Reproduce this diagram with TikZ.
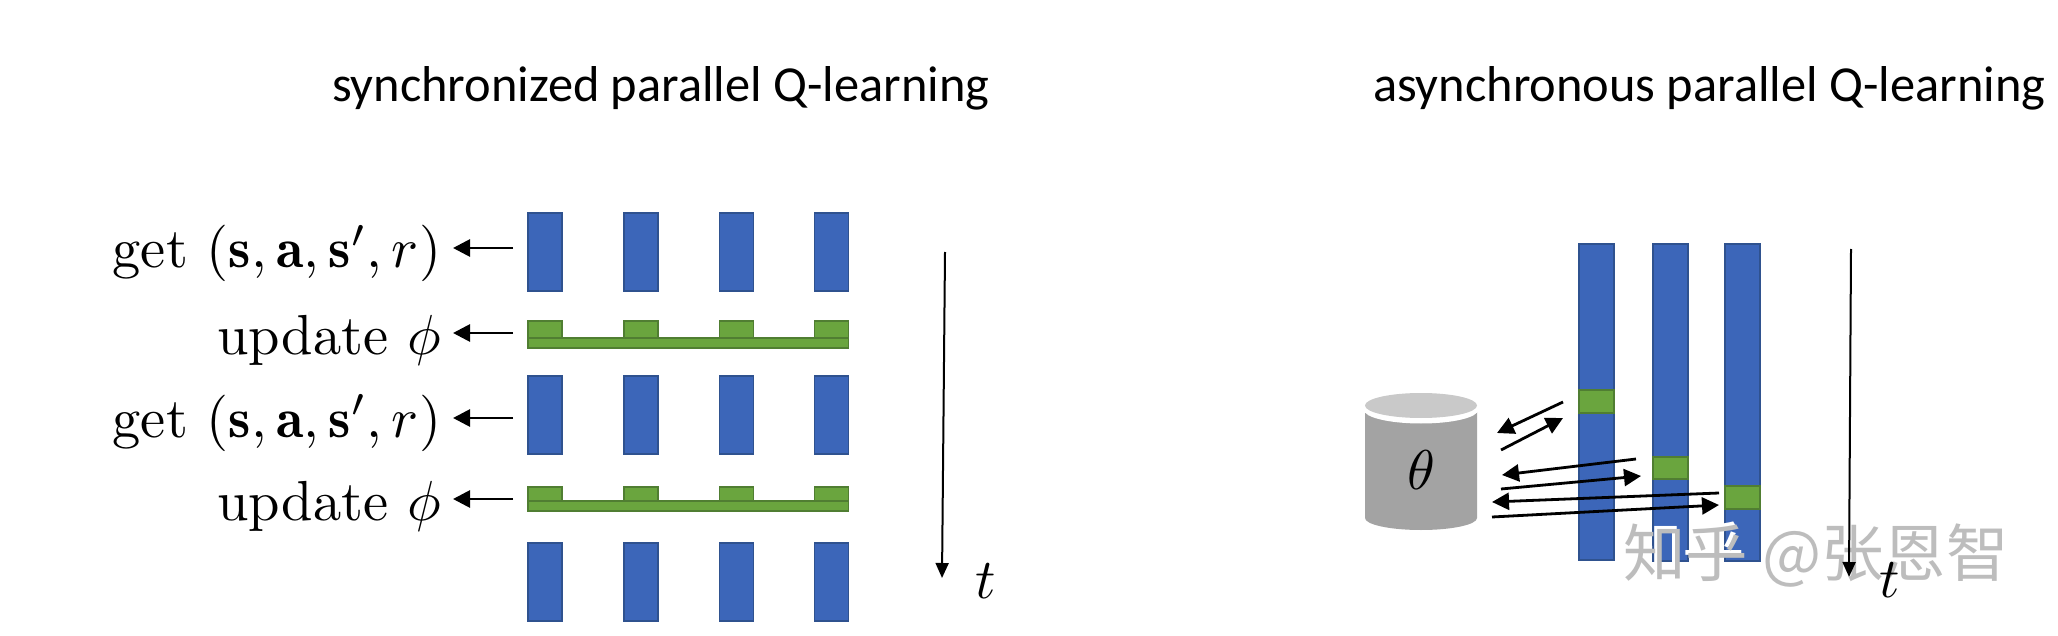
\documentclass[tikz,border=0pt]{standalone}
\usepackage{amsmath}
\usepackage{fontspec}
\newfontfamily\titlefont{Carlito}
\newfontfamily\cjkfont{Noto Sans CJK SC}
\usetikzlibrary{arrows.meta}
\definecolor{barblue}{HTML}{3C66B9}
\definecolor{baredge}{HTML}{2F528F}
\definecolor{bargreen}{HTML}{6AA53E}
\definecolor{greenedge}{HTML}{507E32}
\definecolor{cylbody}{HTML}{A3A3A3}
\definecolor{cyltop}{HTML}{C9C9C9}
\definecolor{wmgrey}{HTML}{BDBDBD}
\tikzset{
  bluebar/.style={draw=baredge,fill=barblue,line width=1.6pt,inner sep=0pt,outer sep=0pt,anchor=north west},
  greenbar/.style={draw=greenedge,fill=bargreen,line width=1.6pt,inner sep=0pt,outer sep=0pt,anchor=north west},
  lab/.style={inner sep=0pt,outer sep=0pt,anchor=base east,scale=5.65},
  title/.style={inner sep=0pt,outer sep=0pt,anchor=base west,font=\titlefont\fontsize{50.4}{54}\selectfont},
  arr/.style={line width=2.8pt,black,-{Triangle[length=17pt,width=17pt]}},
  thinarr/.style={line width=2pt,black,-{Triangle[length=15pt,width=13pt]}},
}
\begin{document}
\begin{tikzpicture}[x=1pt,y=-1pt]
\useasboundingbox[fill=white] (0,0) rectangle (2058,636);
% titles
\node[title] (t1) at (332,102) {synchronized parallel Q-learning};
\node[title] (t2) at (1373,102) {asynchronous parallel Q-learning};
% blue bars, left
\foreach \c/\x in {1/528,2/624,3/719.5,4/814.5}{
  \node[bluebar,minimum width=34pt,minimum height=78pt] (a\c) at (\x,213) {};
  \node[bluebar,minimum width=34pt,minimum height=78pt] (b\c) at (\x,376) {};
  \node[bluebar,minimum width=34pt,minimum height=78pt] (c\c) at (\x,543) {};
  \node[greenbar,minimum width=34pt,minimum height=18pt] (g\c) at (\x,321) {};
  \node[greenbar,minimum width=34pt,minimum height=16pt] (h\c) at (\x,487) {};
}
\node[greenbar,minimum width=320.5pt,minimum height=10pt] (gb) at (528,338) {};
\node[greenbar,minimum width=320.5pt,minimum height=10pt] (hb) at (528,501) {};
% labels
\node[lab] (l1) at (441,268) {get $(\mathbf{s},\mathbf{a},\mathbf{s}',r)$};
\node[lab] (l2) at (441,354) {update $\phi$};
\node[lab] (l3) at (441,437) {get $(\mathbf{s},\mathbf{a},\mathbf{s}',r)$};
\node[lab] (l4) at (441,520) {update $\phi$};
\coordinate (s1) at (513,248);
\coordinate (e1) at (453,248);
\coordinate (s2) at (513,333);
\coordinate (e2) at (453,333);
\coordinate (s3) at (513,418);
\coordinate (e3) at (453,418);
\coordinate (s4) at (513,499);
\coordinate (e4) at (453,499);
\foreach \i in {1,2,3,4}{\draw[arr] (s\i) -- (e\i);}
% time, left
\coordinate (ts) at (945,252);
\coordinate (te) at (942,578);
\draw[thinarr] (ts) -- (te);
\node[lab,anchor=base] (tl) at (986,598) {$t$};
% right bars
\node[bluebar,minimum width=35pt,minimum height=316pt] (p1) at (1579,244) {};
\node[bluebar,minimum width=35pt,minimum height=317pt] (p2) at (1653,244) {};
\node[bluebar,minimum width=35pt,minimum height=317pt] (p3) at (1725,244) {};
\node[greenbar,minimum width=35pt,minimum height=23pt] (q1) at (1579,390) {};
\node[greenbar,minimum width=35pt,minimum height=22pt] (q2) at (1653,457) {};
\node[greenbar,minimum width=35pt,minimum height=23pt] (q3) at (1725,486) {};
% cylinder
\fill[cylbody] (1365,412) -- (1365,518) arc[start angle=180,end angle=0,x radius=56,y radius=12] -- (1477,412) -- cycle;
\fill[white] (1421,410) ellipse[x radius=57,y radius=13.5];
\fill[cyltop] (1421,405.5) ellipse[x radius=56,y radius=12.5];
\node[inner sep=0pt,scale=5.6] (db) at (1421,470) {$\theta$};
% right arrows
\coordinate (r1a) at (1563,402); \coordinate (r1b) at (1497,433);
\coordinate (r2a) at (1501,450); \coordinate (r2b) at (1563,418);
\coordinate (r3a) at (1636,459); \coordinate (r3b) at (1502,475);
\coordinate (r4a) at (1501,489); \coordinate (r4b) at (1641,476);
\coordinate (r5a) at (1719,493); \coordinate (r5b) at (1492,502);
\coordinate (r6a) at (1492,517); \coordinate (r6b) at (1719,505);
\foreach \i in {1,...,6}{\draw[arr] (r\i a) -- (r\i b);}
% watermark
\node[inner sep=0pt,anchor=center,text=white,font=\cjkfont\fontsize{62.5}{64}\selectfont] (wm0) at (1813,553) {知乎 @张恩智};
\node[inner sep=0pt,anchor=center,text=wmgrey,font=\cjkfont\fontsize{62.5}{64}\selectfont] (wm) at (1816,556) {知乎 @张恩智};
% time, right
\coordinate (us) at (1851,249);
\coordinate (ue) at (1849,577);
\draw[thinarr] (us) -- (ue);
\node[lab,anchor=base] (ul) at (1890,597) {$t$};
\end{tikzpicture}
\end{document}
